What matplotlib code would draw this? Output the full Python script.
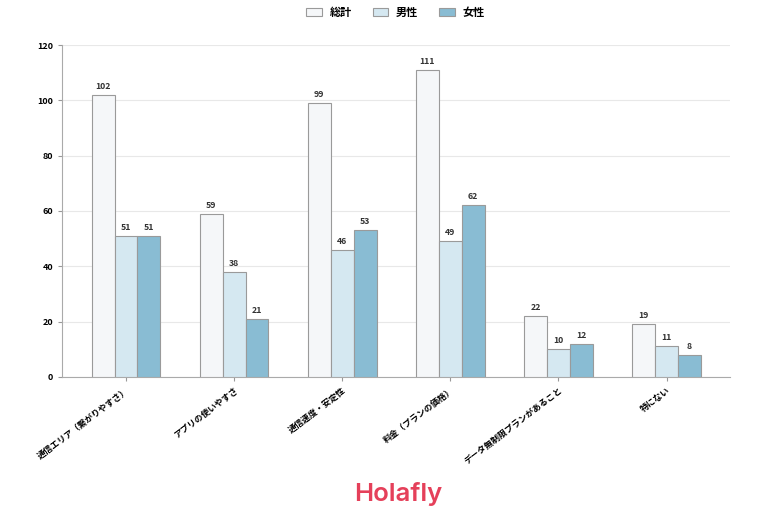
import matplotlib
matplotlib.use('Agg')
import matplotlib.pyplot as plt
import numpy as np

plt.rcParams['font.family'] = ['Noto Sans CJK JP', 'DejaVu Sans']

# データ
categories = ['通信エリア（繋がりやすさ）', 'アプリの使いやすさ', '通信速度・安定性',
              '料金（プランの価格）', 'データ無制限プランがあること', '特にない']
total = [102, 59, 99, 111, 22, 19]
male = [51, 38, 46, 49, 10, 11]
female = [51, 21, 53, 62, 12, 8]
series_names = ['総計', '男性', '女性']
colors = ['#f5f7f9', '#d5e8f1', '#89bcd3']

fig = plt.figure(figsize=(7.68, 5.12), dpi=100)
ax = fig.add_axes([0.081, 0.264, 0.87, 0.648])

x = np.arange(len(categories))
w = 0.212
for i, (vals, name, c) in enumerate(zip([total, male, female], series_names, colors)):
    bars = ax.bar(x + (i - 1) * w, vals, w, color=c, edgecolor='#9a9a9a', linewidth=0.8, label=name, zorder=3)
    for b, v in zip(bars, vals):
        ax.text(b.get_x() + b.get_width() / 2, v + 1.5, str(v), ha='center', va='bottom',
                fontsize=6.3, fontweight='bold', color='#333333')

ax.set_xlim(-0.59, len(categories) - 0.41)
ax.set_ylim(0, 120)
ax.set_yticks(range(0, 121, 20))
ax.set_xticks(x)
ax.set_xticklabels(categories, rotation=37, ha='right', rotation_mode='anchor', fontsize=6.2, fontweight='bold')
ax.tick_params(axis='y', labelsize=6.5, length=3, color='#999999')
ax.tick_params(axis='x', length=3, color='#999999')
for lbl in ax.get_yticklabels():
    lbl.set_fontweight('bold')
ax.grid(axis='y', color='#e8e8e8', linewidth=0.8, zorder=0)
ax.spines['top'].set_visible(False)
ax.spines['right'].set_visible(False)
ax.spines['left'].set_color('#aaaaaa')
ax.spines['bottom'].set_color('#aaaaaa')

fig.legend(loc='upper center', bbox_to_anchor=(0.515, 1.008), ncol=3, frameon=False,
           prop={'size': 8, 'weight': 'bold'}, handlelength=1.4, handleheight=0.7,
           handletextpad=0.7, columnspacing=1.9)

fig.text(0.518, 0.036, 'Holafly', ha='center', va='center', fontsize=18.5, fontweight='semibold',
         color='#e5405a', family=['Inter', 'DejaVu Sans'])

fig.savefig('out.png', dpi=100)
